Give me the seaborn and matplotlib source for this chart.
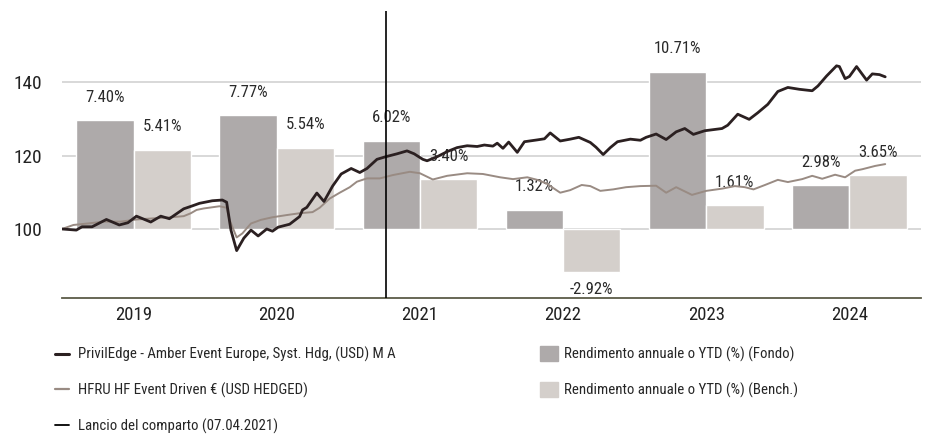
import matplotlib
matplotlib.use("Agg")
import matplotlib.pyplot as plt
import matplotlib.font_manager as fm
from matplotlib.textpath import TextPath
from matplotlib.lines import Line2D
from matplotlib.patches import Patch
import numpy as np
import pandas as pd
import seaborn as sns

# --- data ---
years = ["2019", "2020", "2021", "2022", "2023", "2024"]
fund_pct = [7.40, 7.77, 6.02, 1.32, 10.71, 2.98]
bench_pct = [5.41, 5.54, 3.40, -2.92, 1.61, 3.65]

fund_label = "PrivilEdge - Amber Event Europe, Syst. Hdg, (USD) M A"
bench_label = "HFRU HF Event Driven € (USD HEDGED)"
launch_label = "Lancio del comparto (07.04.2021)"
bar_labels = ["Rendimento annuale o YTD (%) (Fondo)", "Rendimento annuale o YTD (%) (Bench.)"]
launch_date = 2021.263

# fund NAV (rebased 100), decimal years
fund_t = [2019.00, 2019.10, 2019.14, 2019.21, 2019.31, 2019.40, 2019.46, 2019.52, 2019.62,
          2019.69, 2019.75, 2019.85, 2019.91, 2019.96, 2020.05, 2020.12, 2020.15, 2020.18,
          2020.22, 2020.27, 2020.32, 2020.37, 2020.43, 2020.47, 2020.51, 2020.59, 2020.66,
          2020.68, 2020.71, 2020.78, 2020.83, 2020.89, 2020.95, 2021.02, 2021.08, 2021.13,
          2021.20, 2021.26, 2021.34, 2021.41, 2021.46, 2021.52, 2021.55, 2021.62, 2021.69,
          2021.76, 2021.83, 2021.90, 2021.95, 2022.01, 2022.04, 2022.08, 2022.12, 2022.18,
          2022.23, 2022.32, 2022.37, 2022.41, 2022.48, 2022.55, 2022.61, 2022.69, 2022.73,
          2022.78, 2022.83, 2022.88, 2022.97, 2023.04, 2023.08, 2023.15, 2023.22, 2023.29,
          2023.35, 2023.41, 2023.49, 2023.61, 2023.65, 2023.72, 2023.80, 2023.86, 2023.93,
          2024.00, 2024.07, 2024.15, 2024.24, 2024.28, 2024.34, 2024.41, 2024.43, 2024.47,
          2024.50, 2024.55, 2024.62, 2024.66, 2024.71, 2024.75]
fund_v = [100.0, 99.7, 100.6, 100.6, 102.6, 101.1, 101.7, 103.5, 101.9,
          103.5, 102.8, 105.5, 106.3, 107.0, 107.7, 107.9, 107.3, 99.7,
          94.1, 97.5, 99.7, 98.1, 100.0, 99.4, 100.5, 101.3, 103.4,
          105.2, 105.9, 109.8, 107.5, 111.7, 115.0, 116.5, 115.4, 116.5,
          119.0, 119.7, 120.5, 121.3, 120.5, 119.0, 118.6, 119.7, 121.1,
          122.2, 122.7, 122.5, 122.9, 122.6, 123.4, 122.0, 123.7, 120.9,
          123.8, 124.3, 124.6, 126.2, 124.0, 124.5, 125.0, 123.6, 122.3,
          120.3, 122.2, 123.8, 124.5, 124.2, 125.0, 125.9, 124.4, 126.5,
          127.4, 125.8, 126.8, 127.4, 128.3, 131.3, 129.9, 131.7, 134.0,
          137.5, 138.6, 138.1, 137.7, 139.0, 141.7, 144.5, 144.3, 141.0,
          141.6, 144.3, 140.6, 142.3, 142.1, 141.5]

# benchmark (rebased 100)
bench_t = [2019.00, 2019.08, 2019.18, 2019.29, 2019.41, 2019.52, 2019.64, 2019.76, 2019.85,
           2019.90, 2019.94, 2019.99, 2020.10, 2020.15, 2020.17, 2020.22, 2020.26, 2020.32,
           2020.39, 2020.47, 2020.57, 2020.66, 2020.75, 2020.80, 2020.87, 2020.94, 2021.01,
           2021.06, 2021.13, 2021.22, 2021.31, 2021.43, 2021.50, 2021.59, 2021.69, 2021.83,
           2021.94, 2022.06, 2022.15, 2022.25, 2022.32, 2022.39, 2022.43, 2022.48, 2022.55,
           2022.63, 2022.69, 2022.76, 2022.85, 2022.94, 2023.04, 2023.15, 2023.22, 2023.29,
           2023.40, 2023.50, 2023.61, 2023.70, 2023.77, 2023.83, 2023.91, 2024.00, 2024.07,
           2024.17, 2024.24, 2024.31, 2024.40, 2024.47, 2024.54, 2024.59, 2024.68, 2024.75]
bench_v = [100.0, 101.1, 101.5, 102.0, 102.0, 102.6, 102.9, 103.2, 103.5,
           104.3, 105.2, 105.6, 106.2, 105.8, 102.5, 97.7, 98.8, 101.5,
           102.5, 103.2, 103.8, 104.3, 104.6, 105.8, 108.3, 109.9, 111.4,
           112.9, 113.8, 113.8, 114.7, 115.6, 115.2, 113.5, 114.5, 115.2,
           115.0, 114.1, 113.6, 114.1, 113.4, 112.3, 111.2, 109.9, 110.6,
           112.0, 111.7, 110.4, 110.8, 111.4, 111.7, 111.8, 109.9, 111.4,
           109.3, 110.4, 111.0, 111.7, 111.4, 110.8, 112.0, 113.4, 112.8,
           113.6, 114.5, 113.7, 114.8, 114.1, 115.9, 116.3, 117.2, 117.7]

# --- style ---
sns.set_style("white")

# pick a narrow face if one is around, else plain Liberation Sans
names = {f.name for f in fm.fontManager.ttflist}
stretch = "normal"
main_font = "Liberation Sans"
for cand in ["Liberation Sans Narrow", "Roboto Condensed", "Open Sans Condensed"]:
    if cand in names:
        main_font = cand
        break
else:
    path = fm.findfont(fm.FontProperties(family="DejaVu Sans", stretch="condensed"))
    if "Condensed" in path:
        main_font, stretch = "DejaVu Sans", "condensed"
plt.rcParams["font.family"] = [main_font, "DejaVu Sans"]
plt.rcParams["font.stretch"] = stretch
prop = fm.FontProperties(family=main_font, stretch=stretch)


def fit_size(text, width_px):
    # font size (pt) that gives the measured ink width in the reference
    w = TextPath((0, 0), text, size=10, prop=prop).get_extents().width
    return 10 * (width_px * 72 / 100) / w


fs_year = fit_size("2019", 35)
fs_tick = fit_size("140", 26)
fs_val = fit_size("7.40%", 38)
fs_leg = fit_size(fund_label, 317)

c_fund_line = "#2b2021"
c_bench_line = "#998b83"
c_fund_bar = "#aeaaaa"
c_bench_bar = "#d4cfcb"
c_grid = "#d6d6d6"
c_axis = "#5c5c48"

fig = plt.figure(figsize=(9.3, 4.34), dpi=100)
ax = fig.add_axes([62 / 930, 1 - 298 / 434, (921 - 62) / 930, (298 - 11) / 434])

# value axis (100 = 0 %, 4 pts per %)
ylim_v = (81.18, 159.45)
ylim_pct = ((ylim_v[0] - 100) / 4, (ylim_v[1] - 100) / 4)

bars = pd.DataFrame({
    "year": years * 2,
    "pct": fund_pct + bench_pct,
    "serie": ["Fondo"] * len(years) + ["Bench."] * len(years),
})
sns.barplot(data=bars, x="year", y="pct", hue="serie", order=years,
            palette=[c_fund_bar, c_bench_bar], saturation=1, width=0.8,
            legend=False, ax=ax, zorder=2)
ax.set_ylim(*ylim_pct)
ax.set_xlim(-0.5, len(years) - 0.5)
ax.set_yticks([0, 5, 10])
ax.set_yticklabels([])
ax.tick_params(axis="y", length=0)
ax.grid(axis="y", color=c_grid, lw=1.3, zorder=0)
ax.set_axisbelow(True)
ax.set_xlabel("")
ax.set_ylabel("")

for cont, vals in zip(ax.containers, [fund_pct, bench_pct]):
    for rect, v in zip(cont, vals):
        cx = rect.get_x() + rect.get_width() / 2
        off = 16.5 if v >= 0 else -13
        ax.annotate(f"{v:.2f}%", (cx, v), xytext=(0, off), textcoords="offset points",
                    ha="center", va="center", fontsize=fs_val, color="#2a2a2a", zorder=5)

for s in ["top", "left", "right"]:
    ax.spines[s].set_visible(False)
ax.spines["bottom"].set_color(c_axis)
ax.spines["bottom"].set_linewidth(1.3)
ax.set_xticks(range(len(years)))
ax.set_xticklabels(years)
ax.set_xticks(np.arange(-0.5, len(years)), minor=True)
ax.tick_params(axis="x", which="major", length=0, pad=6, labelsize=fs_year, labelcolor="#222222")
ax.tick_params(axis="x", which="minor", length=5.5, width=1.2, color=c_axis, direction="out")

# lines on a twin axis so they sit above the bars
ax2 = ax.twinx()
ax2.set_ylim(*ylim_v)
off0 = int(years[0]) + 0.5
sns.lineplot(x=np.array(bench_t) - off0, y=bench_v, ax=ax2, color=c_bench_line, lw=1.4,
             sort=False, estimator=None)
sns.lineplot(x=np.array(fund_t) - off0, y=fund_v, ax=ax2, color=c_fund_line, lw=2,
             sort=False, estimator=None)
ax2.axvline(launch_date - off0, color="black", lw=1.2)
ax2.set_yticks([100, 120, 140])
ax2.yaxis.set_ticks_position("left")
ax2.yaxis.set_label_position("left")
ax2.tick_params(axis="y", length=0, pad=14, labelsize=fs_tick, labelcolor="#222222")
for s in ax2.spines.values():
    s.set_visible(False)
ax2.set_xlim(-0.5, len(years) - 0.5)

# legends
line_handles = [Line2D([], [], color=c_fund_line, lw=2.2),
                Line2D([], [], color=c_bench_line, lw=1.6),
                Line2D([], [], color="black", lw=1.3)]
fig.legend(line_handles, [fund_label, bench_label, launch_label], loc="upper left",
           bbox_to_anchor=(55 / 930, 1 - 347 / 434), frameon=False, fontsize=fs_leg,
           handlelength=0.95, handletextpad=0.6, labelspacing=1.36, borderpad=0,
           borderaxespad=0)
patch_handles = [Patch(color=c_fund_bar), Patch(color=c_bench_bar)]
fig.legend(patch_handles, bar_labels, loc="upper left",
           bbox_to_anchor=(540 / 930, 1 - 346 / 434), frameon=False, fontsize=fs_leg,
           handlelength=1.2, handleheight=1.2, handletextpad=0.4, labelspacing=1.3,
           borderpad=0, borderaxespad=0)

fig.savefig("out.png", dpi=100)
